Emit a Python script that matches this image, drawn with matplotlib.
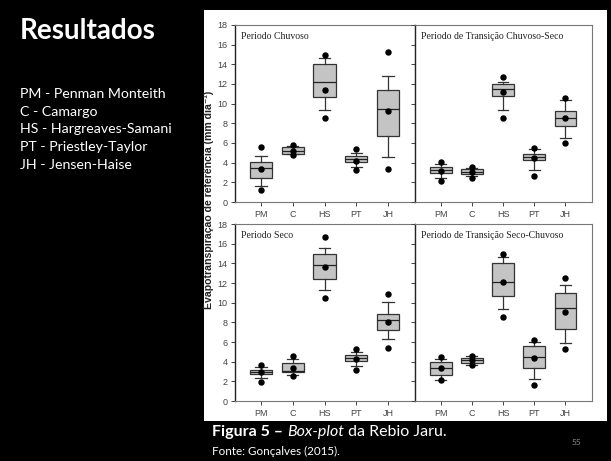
import numpy as np
import matplotlib
matplotlib.use("Agg")
import matplotlib.pyplot as plt
from matplotlib.patches import Rectangle

metodos = ['PM', 'C', 'HS', 'PT', 'JH']
legenda = ['PM - Penman Monteith', 'C - Camargo', 'HS - Hargreaves-Samani',
           'PT - Priestley-Taylor', 'JH - Jensen-Haise']
titulos = ['Periodo Chuvoso', 'Periodo de Transição Chuvoso-Seco',
           'Periodo Seco', 'Periodo de Transição Seco-Chuvoso']

# per panel, per method: whisker low, q1, median, q3, whisker high
chuvoso_box = [[1.6, 2.45, 3.45, 4.05, 4.7],
               [4.85, 4.9, 5.2, 5.55, 5.65],
               [9.4, 10.65, 12.2, 14.0, 14.6],
               [3.55, 4.05, 4.35, 4.65, 4.95],
               [4.6, 6.7, 9.45, 11.4, 12.85]]
chuvoso_pts = [[1.25, 3.4, 5.55], [4.75, 5.2, 5.75], [8.55, 11.35, 14.95],
               [3.3, 4.15, 5.35], [3.4, 9.25, 15.3]]

trans_cs_box = [[2.45, 2.95, 3.3, 3.55, 3.85],
                [2.6, 2.8, 3.1, 3.35, 3.5],
                [9.4, 10.8, 11.45, 12.0, 12.25],
                [3.3, 4.25, 4.6, 4.9, 5.4],
                [6.55, 7.75, 8.5, 9.25, 10.4]]
trans_cs_pts = [[2.15, 3.2, 4.05], [2.45, 3.05, 3.6], [8.5, 11.2, 12.75],
                [2.6, 4.5, 5.5], [6.0, 8.5, 10.6]]

seco_box = [[2.35, 2.7, 3.0, 3.2, 3.45],
            [2.6, 2.9, 3.05, 3.9, 4.3],
            [11.3, 12.45, 13.85, 14.95, 15.55],
            [3.6, 4.1, 4.35, 4.65, 4.95],
            [6.35, 7.2, 8.2, 8.8, 10.05]]
seco_pts = [[1.95, 2.9, 3.7], [2.5, 3.4, 4.6], [10.45, 13.65, 16.7],
            [3.2, 4.25, 5.3], [5.4, 8.05, 10.9]]

trans_sc_box = [[2.1, 2.6, 3.4, 3.95, 4.25],
                [3.7, 3.85, 4.15, 4.35, 4.55],
                [9.35, 10.7, 12.1, 14.05, 14.6],
                [2.25, 3.35, 4.45, 5.55, 5.95],
                [5.85, 7.3, 9.5, 11.0, 11.75]]
trans_sc_pts = [[2.1, 3.4, 4.45], [3.65, 4.15, 4.55], [8.55, 12.1, 14.95],
                [1.65, 4.35, 6.2], [5.25, 9.1, 12.55]]

paineis = [(chuvoso_box, chuvoso_pts), (trans_cs_box, trans_cs_pts),
           (seco_box, seco_pts), (trans_sc_box, trans_sc_pts)]

W, H = 611, 461
fig = plt.figure(figsize=(W / 100, H / 100), dpi=100, facecolor='black')

# white area behind the chart
fig.patches.append(Rectangle((204 / W, 1 - 421 / H), (607 - 204) / W, (421 - 10) / H,
                             transform=fig.transFigure, facecolor='white',
                             edgecolor='none', zorder=-10))

lefts = [235, 415, 235, 415]
rights = [415, 592, 415, 592]
tops = [25, 25, 224, 224]
bots = [202, 202, 401, 401]

pos = np.arange(1, 6)
for i in range(4):
    ax = fig.add_axes([lefts[i] / W, 1 - bots[i] / H,
                       (rights[i] - lefts[i]) / W, (bots[i] - tops[i]) / H])
    ax.set_facecolor('white')
    box, pts = paineis[i]
    stats = []
    for b in box:
        stats.append({'whislo': b[0], 'q1': b[1], 'med': b[2], 'q3': b[3],
                      'whishi': b[4], 'fliers': []})
    ax.bxp(stats, positions=pos, widths=0.7, patch_artist=True, showfliers=False,
           boxprops=dict(facecolor='#c4c4c4', edgecolor='#333333', linewidth=0.9),
           medianprops=dict(color='#222222', linewidth=0.9),
           whiskerprops=dict(color='#333333', linewidth=0.9),
           capprops=dict(color='#333333', linewidth=0.9))
    for j in range(5):
        ax.plot([pos[j]] * 3, pts[j], 'o', color='black', markersize=3.6, zorder=5)
    ax.set_xlim(0.18, 5.85)
    ax.set_ylim(0, 18)
    ax.set_yticks(np.arange(0, 19, 2))
    ax.set_xticks(pos)
    ax.set_xticklabels(metodos)
    ax.tick_params(direction='out', length=3, width=0.7, colors='#444444',
                   labelsize=6.5, pad=2.5)
    for lab in ax.get_xticklabels() + ax.get_yticklabels():
        lab.set_family('Liberation Sans')
    if i in (1, 3):
        ax.set_yticklabels([])
    for sp in ax.spines.values():
        sp.set_color('#777777')
        sp.set_linewidth(0.8)
    ax.spines['left'].set_color('#222222')
    ax.spines['left'].set_linewidth(1.0)
    ax.text(0.035, 0.935, titulos[i], transform=ax.transAxes, fontsize=7,
            family='Liberation Serif', color='#222222', va='center', ha='left')

fig.text(209 / W, 1 - 200 / H, 'Evapotranspiração de referência (mm dia⁻¹)',
         rotation=90, ha='center', va='center', fontsize=7.6, fontweight='bold',
         family=['Liberation Sans', 'DejaVu Sans'], color='#222222')

# slide text
fig.text(20 / W, 1 - 31 / H, 'Resultados', color='white', fontsize=20,
         fontweight='bold', family='Lato', va='center', ha='left')
for k, t in enumerate(legenda):
    fig.text(20 / W, 1 - (94 + k * 17.7) / H, t, color='white', fontsize=10.2,
             family='Lato', va='center', ha='left')

# caption, pieces placed one after another
renderer = fig.canvas.get_renderer()
x = 212
for t, kw in [('Figura 5 – ', dict(fontweight='bold')),
              ('Box-plot', dict(style='italic')),
              (' da Rebio Jaru.', dict())]:
    txt = fig.text(x / W, 1 - 432 / H, t, color='white', fontsize=11.5,
                   family='Lato', va='center', ha='left', **kw)
    x += txt.get_window_extent(renderer).width
fig.text(212 / W, 1 - 451 / H, 'Fonte: Gonçalves (2015).', color='white',
         fontsize=8.4, family='Lato', va='center', ha='left')
fig.text(576 / W, 1 - 442 / H, '55', color='#888888', fontsize=6,
         family='Lato', va='center', ha='center')

fig.savefig('out.png', dpi=100, facecolor='black')
